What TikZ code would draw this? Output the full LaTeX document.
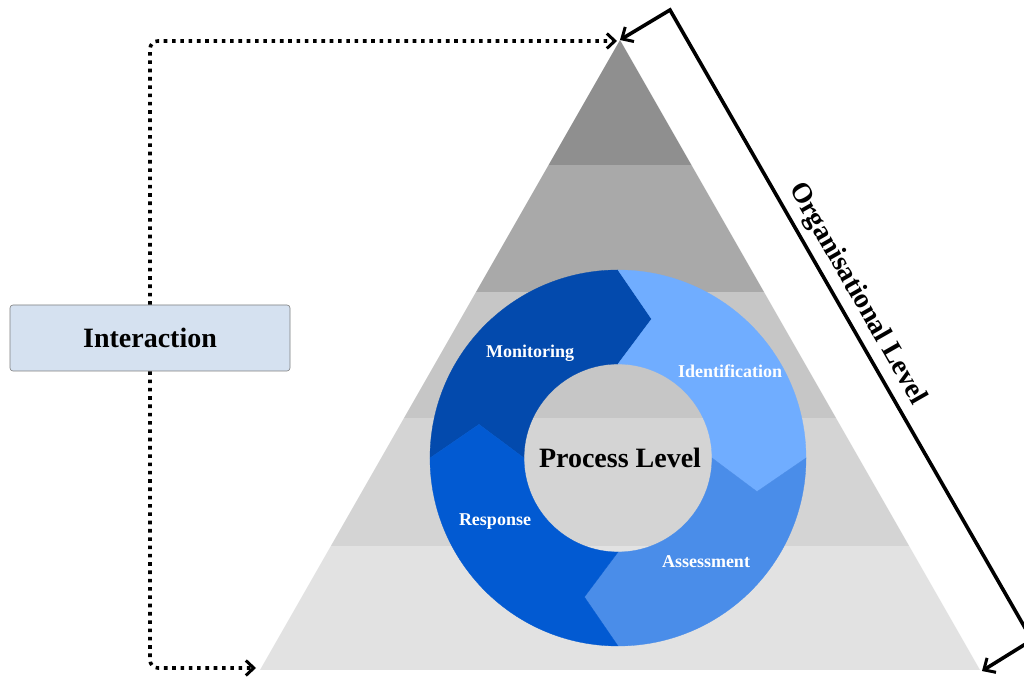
\documentclass[tikz,border=0pt]{standalone}
\usepackage{fontspec}
\setmainfont{Liberation Serif}
\usetikzlibrary{calc,arrows.meta}
\definecolor{bandA}{HTML}{8F8F8F}
\definecolor{bandB}{HTML}{A9A9A9}
\definecolor{bandC}{HTML}{C6C6C6}
\definecolor{bandD}{HTML}{D4D4D4}
\definecolor{bandE}{HTML}{E2E2E2}
\definecolor{monC}{HTML}{034AAD}
\definecolor{ideC}{HTML}{70ADFF}
\definecolor{assC}{HTML}{4A8DE9}
\definecolor{resC}{HTML}{025AD2}
\definecolor{boxC}{HTML}{D5E1F0}
\definecolor{boxB}{HTML}{7F7F7F}
\newcommand\ringseg[2]{%
  \fill[#2, draw=#2, line width=0.3pt] ($(C)+(#1:188)$) arc[start angle=#1, end angle=#1-90, radius=188]
    -- ($(C)+(#1-103.6:143)$) -- ($(C)+(#1-90:94)$)
    arc[start angle=#1-90, end angle=#1, radius=94]
    -- ($(C)+(#1-13.6:143)$) -- cycle;}
\begin{document}
\begin{tikzpicture}[x=1pt,y=1pt,
  seglabel/.style={text=white, font=\bfseries\fontsize{18}{20}\selectfont},
  bigbold/.style={font=\bfseries\fontsize{28}{30}\selectfont},
  dotline/.style={line width=3.6pt, dash pattern=on 3.6pt off 4.7pt, rounded corners=8pt,
    -{Straight Barb[length=8pt,width=15pt,line width=3pt]}},
  orgline/.style={line width=3.6pt,
    {Straight Barb[length=9pt,width=17pt,line width=3pt]}-{Straight Barb[length=9pt,width=17pt,line width=3pt]}},
  ibox/.style={draw=boxB, fill=boxC, rounded corners=3pt, line width=0.6pt,
    minimum width=280pt, minimum height=66pt, inner sep=0pt}]
\useasboundingbox (0,0) rectangle (1024,679);
\clip (0,0) rectangle (1024,679);
\fill[white] (0,0) rectangle (1024,679);
\coordinate (apex) at (620,639);
\coordinate (BL) at (260,9);
\coordinate (BR) at (980,9);
% pyramid bands
\begin{scope}
  \clip (apex) -- (BL) -- (BR) -- cycle;
  \fill[bandA] (200,514) rectangle (1000,660);
  \fill[bandB] (200,387) rectangle (1000,514);
  \fill[bandC] (200,261) rectangle (1000,387);
  \fill[bandD] (200,133) rectangle (1000,261);
  \fill[bandE] (200,0) rectangle (1000,133);
\end{scope}
% ring
\coordinate (C) at (618,221);
\ringseg{180}{monC}
\ringseg{90}{ideC}
\ringseg{0}{assC}
\ringseg{270}{resC}
\node[seglabel] (mon) at (530,326) {Monitoring};
\node[seglabel] (ide) at (730,308) {Identification};
\node[seglabel] (ass) at (706,117) {Assessment};
\node[seglabel] (res) at (495,157) {Response};
\node[bigbold] (proc) at (620,221) {Process Level};
% interaction
\node[ibox, bigbold] (inter) at (150,341) {Interaction};
\coordinate (toptip) at (617,638);
\coordinate (bottip) at (256,11);
\draw[dotline] (inter.north) |- (toptip);
\draw[dotline] (inter.south) |- (bottip);
% organisational level
\coordinate (tt) at (620,639);
\coordinate (tc) at (670,669);
\coordinate (bc) at (1032,39);
\coordinate (bt) at (982,8);
\draw[orgline, line join=miter] (tt) -- (tc) -- (bc) -- (bt);
\node[bigbold, rotate=-60.3] (org) at (857,385) {Organisational Level};
\end{tikzpicture}
\end{document}
